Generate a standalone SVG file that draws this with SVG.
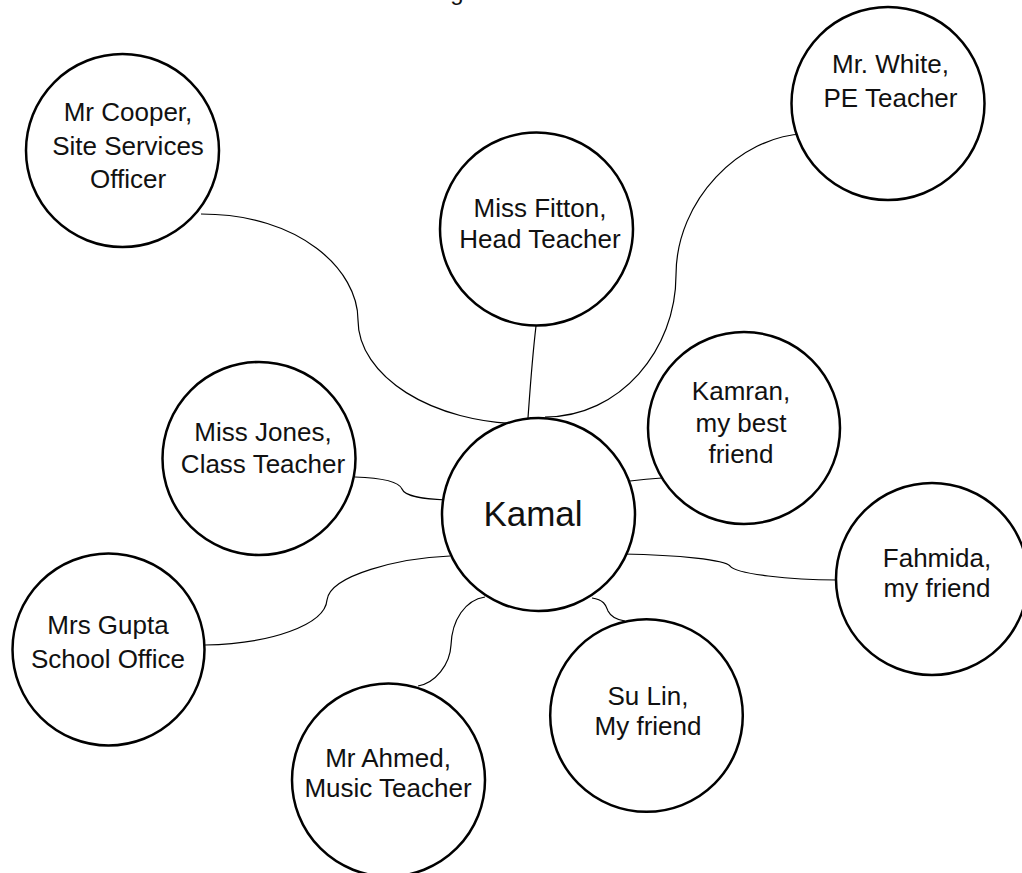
<svg xmlns="http://www.w3.org/2000/svg" width="1022" height="873" viewBox="0 0 1022 873">
<style>
.node circle{fill:#fff;stroke:#000;stroke-width:2.5}
.node text{font-family:"Liberation Sans",Arial,sans-serif;font-size:26px;fill:#111;text-anchor:middle}
#connectors path{fill:none;stroke:#000;stroke-width:1.2}
.title{font-family:"Liberation Sans",Arial,sans-serif;font-size:24px;fill:#111;text-anchor:middle}
</style>
<rect width="1022" height="873" fill="#fff"/>
<text class="title" x="457" y="0">g</text>
<g id="connectors">
<path d="M201,214 C300,214 358,270 358,320 C358,375 430,424 528,424"/>
<path d="M536,326 C532,360 530,390 528,418"/>
<path d="M804,134 C740,136 676,200 676,275 C676,350 620,417 545,417"/>
<path d="M355,477 C385,478 399,482 402,489 C405,497 425,499 446,500"/>
<path d="M630,481 Q646,479 662,478"/>
<path d="M623,554 C680,555 725,560 730,566 C736,574 790,580 837,580"/>
<path d="M592,598 C605,600 606,606 608,611 C611,617 618,620 625,621"/>
<path d="M485,597 C465,600 452,620 451,645 C450,665 435,683 418,686"/>
<path d="M205,645 C270,644 325,625 327,600 C330,575 400,558 450,556"/>
</g>
<g id="node-cooper" class="node">
<circle cx="122.5" cy="150.5" r="96.5"/>
<text x="128" y="121">Mr Cooper,</text>
<text x="128" y="155">Site Services</text>
<text x="128" y="188">Officer</text>
</g>
<g id="node-fitton" class="node">
<circle cx="536.5" cy="229" r="96.5"/>
<text x="540" y="217">Miss Fitton,</text>
<text x="540" y="248">Head Teacher</text>
</g>
<g id="node-white" class="node">
<circle cx="888" cy="103.5" r="96.5"/>
<text x="890.5" y="73">Mr. White,</text>
<text x="890.5" y="107">PE Teacher</text>
</g>
<g id="node-jones" class="node">
<circle cx="259" cy="458.5" r="96.5"/>
<text x="263" y="441">Miss Jones,</text>
<text x="263" y="473">Class Teacher</text>
</g>
<g id="node-kamal" class="node">
<circle cx="538.5" cy="514.5" r="96.5"/>
<text x="533" y="526" style="font-size:35px">Kamal</text>
</g>
<g id="node-kamran" class="node">
<circle cx="744" cy="428" r="96"/>
<text x="741" y="400">Kamran,</text>
<text x="741" y="432">my best</text>
<text x="741" y="463">friend</text>
</g>
<g id="node-fahmida" class="node">
<circle cx="932" cy="579" r="96"/>
<text x="937" y="567">Fahmida,</text>
<text x="937" y="597">my friend</text>
</g>
<g id="node-gupta" class="node">
<circle cx="108.5" cy="649.5" r="96"/>
<text x="108" y="634">Mrs Gupta</text>
<text x="108" y="668">School Office</text>
</g>
<g id="node-sulin" class="node">
<circle cx="646.5" cy="715.5" r="96.3"/>
<text x="648" y="705">Su Lin,</text>
<text x="648" y="735">My friend</text>
</g>
<g id="node-ahmed" class="node">
<circle cx="388.5" cy="780" r="96.5"/>
<text x="388" y="767">Mr Ahmed,</text>
<text x="388" y="797">Music Teacher</text>
</g>
</svg>
